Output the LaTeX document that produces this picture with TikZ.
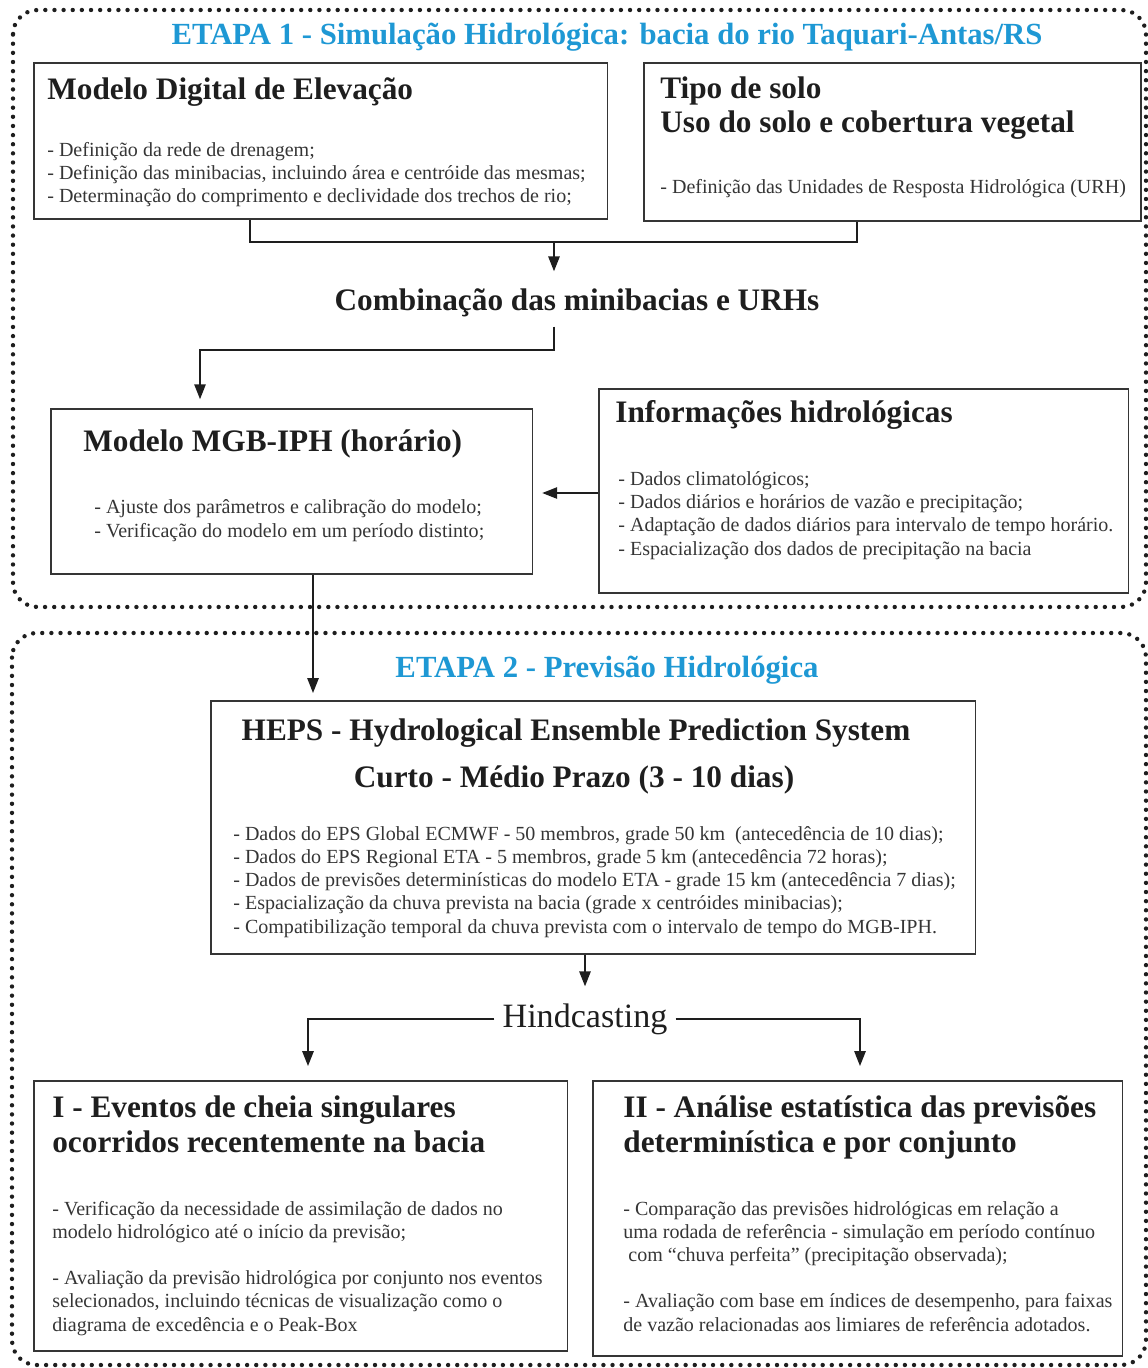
\documentclass[tikz,border=0pt]{standalone}
\usepackage{fontspec}
\setmainfont{Liberation Serif}
\usetikzlibrary{arrows.meta}
\definecolor{etapa}{RGB}{30,152,212}
\definecolor{ink}{RGB}{30,30,30}
\tikzset{
  frame/.style={draw=ink, line width=2.5pt, dash pattern=on 0pt off 5.2pt, line cap=round, rounded corners=14pt},
  box/.style={draw=ink!90, line width=0.9pt, anchor=north west, inner sep=0pt},
  head/.style={anchor=base west, inner sep=0pt, text=ink, align=left, font=\fontsize{17.8}{19.5}\selectfont\bfseries},
  txt/.style={anchor=base west, inner sep=0pt, text=ink!90, align=left, font=\fontsize{11.4}{13.2}\selectfont},
  title/.style={anchor=base, inner sep=0pt, text=etapa, font=\fontsize{17.5}{19}\selectfont\bfseries},
  link/.style={draw=ink, line width=0.9pt},
  arr/.style={link, -{Triangle[length=8.5pt, width=6.5pt]}},
}

\begin{document}
\begin{tikzpicture}[x=0.02cm, y=-0.02cm]
	\useasboundingbox (0,0) rectangle (1148,1368);

	% etapas
	\draw[frame] (13,10) rectangle (1146,607);
	\draw[frame] (12,633) rectangle (1146,1365);
	\node[title] (etapaA) at (607,45) {ETAPA 1 - Simulação Hidrológica: bacia do rio Taquari-Antas/RS};
	\node[title] (etapaB) at (607,677) {ETAPA 2 - Previsão Hidrológica};

	% caixas da etapa 1
	\node[box, minimum width=11.48cm, minimum height=3.12cm] (mde) at (33,62) {};
	\node[box, minimum width=9.94cm, minimum height=3.16cm] (solo) at (643,62) {};
	\node[box, minimum width=9.64cm, minimum height=3.30cm] (mgb) at (50,408) {};
	\node[box, minimum width=10.6cm, minimum height=4.08cm] (info) at (598,388) {};

	% (base = linha de base da ultima linha)
	\node[head] (mdeT) at (47,100) {Modelo Digital de Elevação};
	\node[txt] (mdeL) at (47,203) {- Definição da rede de drenagem;\\
		- Definição das minibacias, incluindo área e centróide das mesmas;\\
		- Determinação do comprimento e declividade dos trechos de rio;};

	\node[head] (soloT) at (660,133) {Tipo de solo\\Uso do solo e cobertura vegetal};
	\node[txt] (soloL) at (660,194) {- Definição das Unidades de Resposta Hidrológica (URH)};

	\node[head, anchor=base, inner sep=5pt] (comb) at (577,311) {Combinação das minibacias e URHs};

	\node[head] (mgbT) at (83,451) {Modelo MGB-IPH (horário)};
	\node[txt] (mgbL) at (94,537) {- Ajuste dos parâmetros e calibração do modelo;\\
		- Verificação do modelo em um período distinto;};

	\node[head] (infoT) at (615,422) {Informações hidrológicas};
	\node[txt] (infoL) at (618,555) {- Dados climatológicos;\\
		- Dados diários e horários de vazão e precipitação;\\
		- Adaptação de dados diários para intervalo de tempo horário.\\
		- Espacialização dos dados de precipitação na bacia};

	% caixas da etapa 2
	\node[box, minimum width=15.3cm, minimum height=5.06cm] (heps) at (210,700) {};
	\node[box, minimum width=10.68cm, minimum height=5.4cm] (cheia) at (33,1080) {};
	\node[box, minimum width=10.6cm, minimum height=5.5cm] (stat) at (592,1080) {};

	\node[head, anchor=base] (hepsT) at (576,740) {HEPS - Hydrological Ensemble Prediction System};
	\node[head, anchor=base] (hepsP) at (574,787) {Curto - Médio Prazo (3 - 10 dias)};
	\node[txt] (hepsL) at (233,933) {- Dados do EPS Global ECMWF - 50 membros, grade 50 km \ (antecedência de 10 dias);\\
		- Dados do EPS Regional ETA - 5 membros, grade 5 km (antecedência 72 horas);\\
		- Dados de previsões determinísticas do modelo ETA - grade 15 km (antecedência 7 dias);\\
		- Espacialização da chuva prevista na bacia (grade x centróides minibacias);\\
		- Compatibilização temporal da chuva prevista com o intervalo de tempo do MGB-IPH.};

	\node[anchor=base, inner sep=4.5pt, text=ink, font=\fontsize{19.4}{22}\selectfont] (hind) at (585,1027) {Hindcasting};

	\node[head] (cheiaT) at (52,1152) {I - Eventos de cheia singulares\\ocorridos recentemente na bacia};
	\node[txt] (cheiaL) at (52,1331) {- Verificação da necessidade de assimilação de dados no\\
		modelo hidrológico até o início da previsão;\\[13.2pt]
		- Avaliação da previsão hidrológica por conjunto nos eventos\\
		selecionados, incluindo técnicas de visualização como o\\
		diagrama de excedência e o Peak-Box};

	\node[head] (statT) at (623,1152) {II - Análise estatística das previsões\\determinística e por conjunto};
	\node[txt] (statL) at (623,1331) {- Comparação das previsões hidrológicas em relação a\\
		uma rodada de referência - simulação em período contínuo\\
		\ com “chuva perfeita” (precipitação observada);\\[13.2pt]
		- Avaliação com base em índices de desempenho, para faixas\\
		de vazão relacionadas aos limiares de referência adotados.};

	% ligacoes
	\coordinate (jl) at (250,242);
	\coordinate (jr) at (857,242);
	\coordinate (jm) at (554,242);
	\coordinate (cb) at (554,350);
	\coordinate (cl) at (200,350);
	\coordinate (ia) at (598,493);
	\coordinate (ma) at (313,573);
	\coordinate (hl) at (308,1066);
	\coordinate (hr) at (860,1066);

	\draw[link] (mde.south -| jl) -- (jl) -- (jr) -- (solo.south -| jr);
	\draw[arr, shorten >=5pt] (jm) -- (comb.north -| jm);
	\draw[arr, shorten >=5pt] (comb.south -| cb) -- (cb) -- (cl) -- (mgb.north -| cl);
	\draw[arr, shorten >=5pt] (ia) -- (mgb.east |- ia);
	\draw[arr, shorten >=4pt] (mgb.south -| ma) -- (heps.north -| ma);
	\draw[arr, shorten >=5pt] (heps.south -| hind) -- (hind.north);
	\draw[arr] (hind.west) -| (hl);
	\draw[arr] (hind.east) -| (hr);

\end{tikzpicture}
\end{document}
